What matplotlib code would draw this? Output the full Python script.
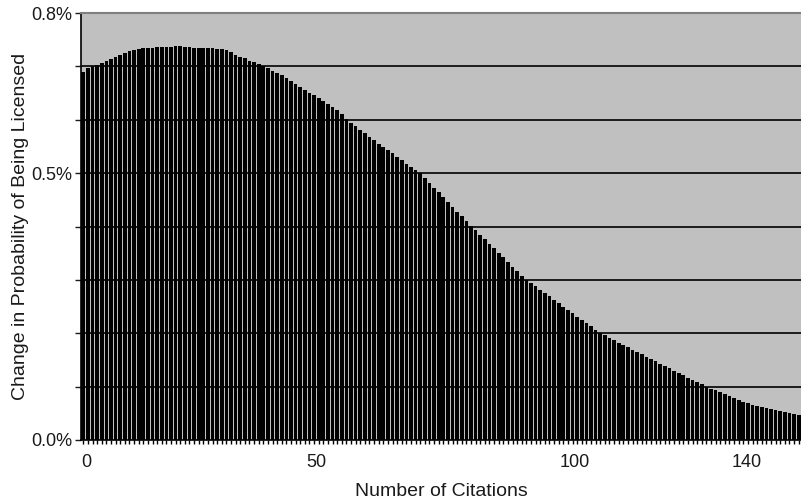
import numpy as np
import matplotlib
matplotlib.use("Agg")
import matplotlib.pyplot as plt
from matplotlib.ticker import FixedLocator, FuncFormatter

plt.rcParams['font.family'] = ['Liberation Sans', 'DejaVu Sans']

# change in probability of being licensed (%), one bar per citation count
prob_change = [
    0.690, 0.697, 0.700, 0.703, 0.706, 0.710, 0.714, 0.718, 0.721, 0.725,
    0.728, 0.731, 0.733, 0.734, 0.734, 0.735, 0.736, 0.736, 0.737, 0.737,
    0.738, 0.738, 0.737, 0.736, 0.735, 0.734, 0.734, 0.734, 0.734, 0.733,
    0.732, 0.730, 0.726, 0.721, 0.718, 0.715, 0.711, 0.708, 0.704, 0.700,
    0.697, 0.692, 0.687, 0.683, 0.678, 0.672, 0.667, 0.661, 0.656, 0.651,
    0.646, 0.641, 0.635, 0.630, 0.624, 0.618, 0.610, 0.602, 0.594, 0.588,
    0.581, 0.575, 0.568, 0.562, 0.555, 0.549, 0.543, 0.537, 0.530, 0.524,
    0.518, 0.512, 0.506, 0.500, 0.491, 0.482, 0.473, 0.464, 0.455, 0.446,
    0.437, 0.428, 0.419, 0.410, 0.401, 0.393, 0.384, 0.376, 0.367, 0.359,
    0.351, 0.342, 0.334, 0.325, 0.317, 0.308, 0.300, 0.294, 0.288, 0.281,
    0.275, 0.269, 0.263, 0.256, 0.250, 0.244, 0.238, 0.231, 0.225, 0.219,
    0.213, 0.206, 0.200, 0.196, 0.191, 0.187, 0.182, 0.178, 0.174, 0.169,
    0.165, 0.161, 0.156, 0.152, 0.148, 0.143, 0.139, 0.134, 0.130, 0.126,
    0.121, 0.117, 0.112, 0.108, 0.104, 0.099, 0.096, 0.093, 0.090, 0.086,
    0.083, 0.079, 0.075, 0.072, 0.069, 0.066, 0.064, 0.062, 0.060, 0.058,
    0.056, 0.054, 0.052, 0.050, 0.049, 0.047,
]
citations = np.arange(len(prob_change))

# category axis labels (Excel places them on selected bars)
xtick_pos = [0.6, 50.6, 106.5, 143.8]
xtick_labels = ['0', '50', '100', '140']
ytick_labels = {0.0: '0.0%', 0.5: '0.5%', 0.8: '0.8%'}

fig = plt.figure(figsize=(8.01, 5.04), dpi=100)
ax = fig.add_axes([81 / 801, 64 / 504, 720 / 801, 427 / 504])
ax.set_facecolor('#c0c0c0')

# gridlines behind the bars
for g in np.arange(0.1, 0.75, 0.1):
    ax.axhline(g, color='black', lw=1.2, zorder=1)

ax.bar(citations, prob_change, width=0.8, color='black', linewidth=0, zorder=2)

ax.set_xlim(-0.5, len(prob_change) - 0.5)
ax.set_ylim(0, 0.8)

ax.yaxis.set_major_locator(FixedLocator(np.round(np.arange(0, 0.85, 0.1), 1)))
ax.yaxis.set_major_formatter(FuncFormatter(lambda v, p: ytick_labels.get(round(v, 1), '')))
ax.set_xticks(xtick_pos)
ax.set_xticklabels(xtick_labels)
ax.xaxis.set_minor_locator(FixedLocator(citations))

ax.tick_params(axis='y', direction='out', length=4, width=1, labelsize=13, pad=2, colors='#1a1a1a')
ax.tick_params(axis='x', which='major', direction='out', length=0, labelsize=13, pad=10, colors='#1a1a1a')
ax.tick_params(axis='x', which='minor', direction='out', length=3, width=1, color='black')

for s in ['left', 'bottom']:
    ax.spines[s].set_color('black')
    ax.spines[s].set_linewidth(1.2)
ax.spines['top'].set_color('#808080')
ax.spines['top'].set_linewidth(1.5)
ax.spines['right'].set_visible(False)

ax.set_xlabel('Number of Citations', fontsize=14, color='#1a1a1a', labelpad=9)
ax.set_ylabel('Change in Probability of Being Licensed', fontsize=14, color='#1a1a1a', labelpad=2)

fig.savefig('out.png', dpi=100)
